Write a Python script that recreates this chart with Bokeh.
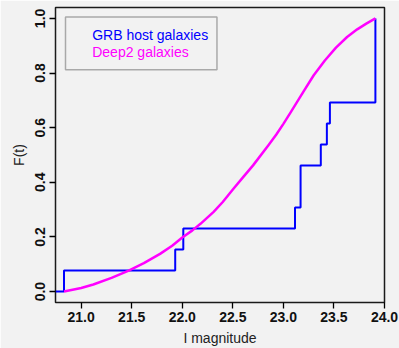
from bokeh.plotting import figure
from bokeh.models import Range1d, FixedTicker, PrintfTickFormatter, Label, BoxAnnotation
from bokeh.embed import file_html
from bokeh.resources import INLINE

# GRB host galaxies: empirical CDF (13 objects)
grb_n = 13
grb_x = [20.83, 21.93, 22.01, 23.115, 23.17, 23.37, 23.43, 23.46, 23.91]
grb_counts = [1, 2, 3, 4, 6, 7, 8, 9, 13]

# Deep2 galaxies: smooth CDF
deep_x = [20.83, 21.00, 21.12, 21.30, 21.47, 21.62, 21.78, 21.90, 22.00, 22.10,
          22.18, 22.31, 22.40, 22.51, 22.60, 22.70, 22.85, 22.93, 23.00, 23.07,
          23.20, 23.30, 23.41, 23.52, 23.63, 23.73, 23.82, 23.91]
deep_y = [0.000, 0.013, 0.026, 0.050, 0.077, 0.104, 0.138, 0.168, 0.198, 0.224,
          0.248, 0.292, 0.328, 0.378, 0.418, 0.462, 0.535, 0.575, 0.614, 0.655,
          0.733, 0.792, 0.846, 0.893, 0.932, 0.960, 0.981, 1.000]

x_ticks = [21.0, 21.5, 22.0, 22.5, 23.0, 23.5, 24.0]
y_ticks = [0.0, 0.2, 0.4, 0.6, 0.8, 1.0]
legend_labels = ["GRB host galaxies", "Deep2 galaxies"]
x_title = "I magnitude"
y_title = "F(t)"

BG = "#f2f2f2"
FONT = "Liberation Sans"

x0, x1 = 20.746, 24.0
p = figure(width=399, height=348, output_backend="svg", toolbar_location=None,
           x_range=Range1d(x0, x1), y_range=Range1d(-0.04, 1.04),
           min_border_left=55, min_border_right=15, min_border_top=7, min_border_bottom=46)
p.background_fill_color = BG
p.border_fill_color = BG
p.outline_line_color = "#1a1a1a"
p.outline_line_width = 1.5
p.grid.visible = False

# step function
sx = [x0] + grb_x
sy = [0.0] + [c / grb_n for c in grb_counts]
p.step(sx, sy, mode="after", line_color="#0000ff", line_width=2)
p.line(deep_x, deep_y, line_color="#ff00ff", line_width=2.5, line_join="round")

for ax in (p.xaxis[0], p.yaxis[0]):
    ax.axis_line_color = None
    ax.major_tick_line_color = "black"
    ax.major_tick_line_width = 1.3
    ax.major_tick_out = 6
    ax.major_tick_in = 0
    ax.minor_tick_line_color = None
    ax.major_label_text_font = FONT
    ax.major_label_text_font_size = "14px"
    ax.major_label_text_font_style = "bold"
    ax.major_label_text_color = "#111111"
    ax.axis_label_text_font = FONT
    ax.axis_label_text_font_size = "14px"
    ax.axis_label_text_font_style = "normal"
    ax.axis_label_text_color = "#222222"
    ax.formatter = PrintfTickFormatter(format="%.1f")

p.xaxis[0].ticker = FixedTicker(ticks=x_ticks)
p.yaxis[0].ticker = FixedTicker(ticks=y_ticks)
p.xaxis[0].axis_label = x_title
p.yaxis[0].axis_label = y_title
p.xaxis[0].major_label_standoff = 3
p.xaxis[0].axis_label_standoff = 5
p.yaxis[0].major_label_orientation = "vertical"
p.yaxis[0].major_label_standoff = 4
p.yaxis[0].axis_label_standoff = 6

# legend box
p.add_layout(BoxAnnotation(left=20.845, right=22.343, bottom=0.812, top=1.005,
                           fill_color=None, line_color="#000000", line_width=1.5))
for lab, yy, col in zip(legend_labels, [0.938, 0.877], ["#0000ff", "#ff00ff"]):
    p.add_layout(Label(x=21.109, y=yy, text=lab, text_color=col, text_font=FONT,
                       text_font_size="14px", text_baseline="middle"))

open("out.html", "w").write(file_html(p, INLINE))
